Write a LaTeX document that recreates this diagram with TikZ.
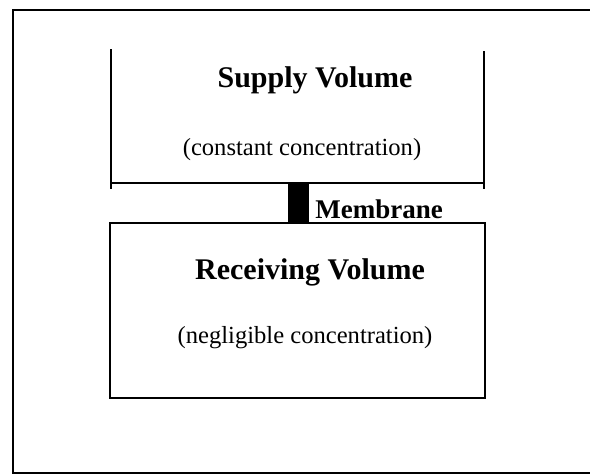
\documentclass[tikz,border=0pt]{standalone}
\usepackage{fontspec}
\setmainfont{Liberation Serif}
\tikzset{
  title/.style={font=\fontsize{15}{18}\selectfont\bfseries, inner sep=0pt},
  note/.style={font=\fontsize{12.3}{15}\selectfont, inner sep=0pt},
  wall/.style={line width=1.4pt},
}
\begin{document}
\begin{tikzpicture}[x=0.5pt,y=0.5pt,line cap=rect,line join=miter]
	\useasboundingbox (0,0) rectangle (590,475);
	\clip (0,0) rectangle (590,475);
	% outer frame
	\draw[wall] (620,465) -- (13,465) -- (13,2) -- (620,2);
	% supply volume (open at the top)
	\draw[wall] (111,425) -- (111,287);
	\draw[wall] (484,423) -- (484,287);
	\draw[wall] (111,292) -- (484,292);
	% receiving volume
	\draw[wall] (110,252) rectangle (485,77);
	% membrane
	\fill (288,252) rectangle (309,292);
	\node[title] (supply) at (315,395) {Supply Volume};
	\node[note] (supplynote) at (302,325) {(constant concentration)};
	\node[title, font=\fontsize{13.5}{16}\selectfont\bfseries, anchor=base west] (memlabel) at (315,256) {Membrane};
	\node[title] (recv) at (310,203) {Receiving Volume};
	\node[note] (recvnote) at (305,137) {(negligible concentration)};
\end{tikzpicture}
\end{document}
